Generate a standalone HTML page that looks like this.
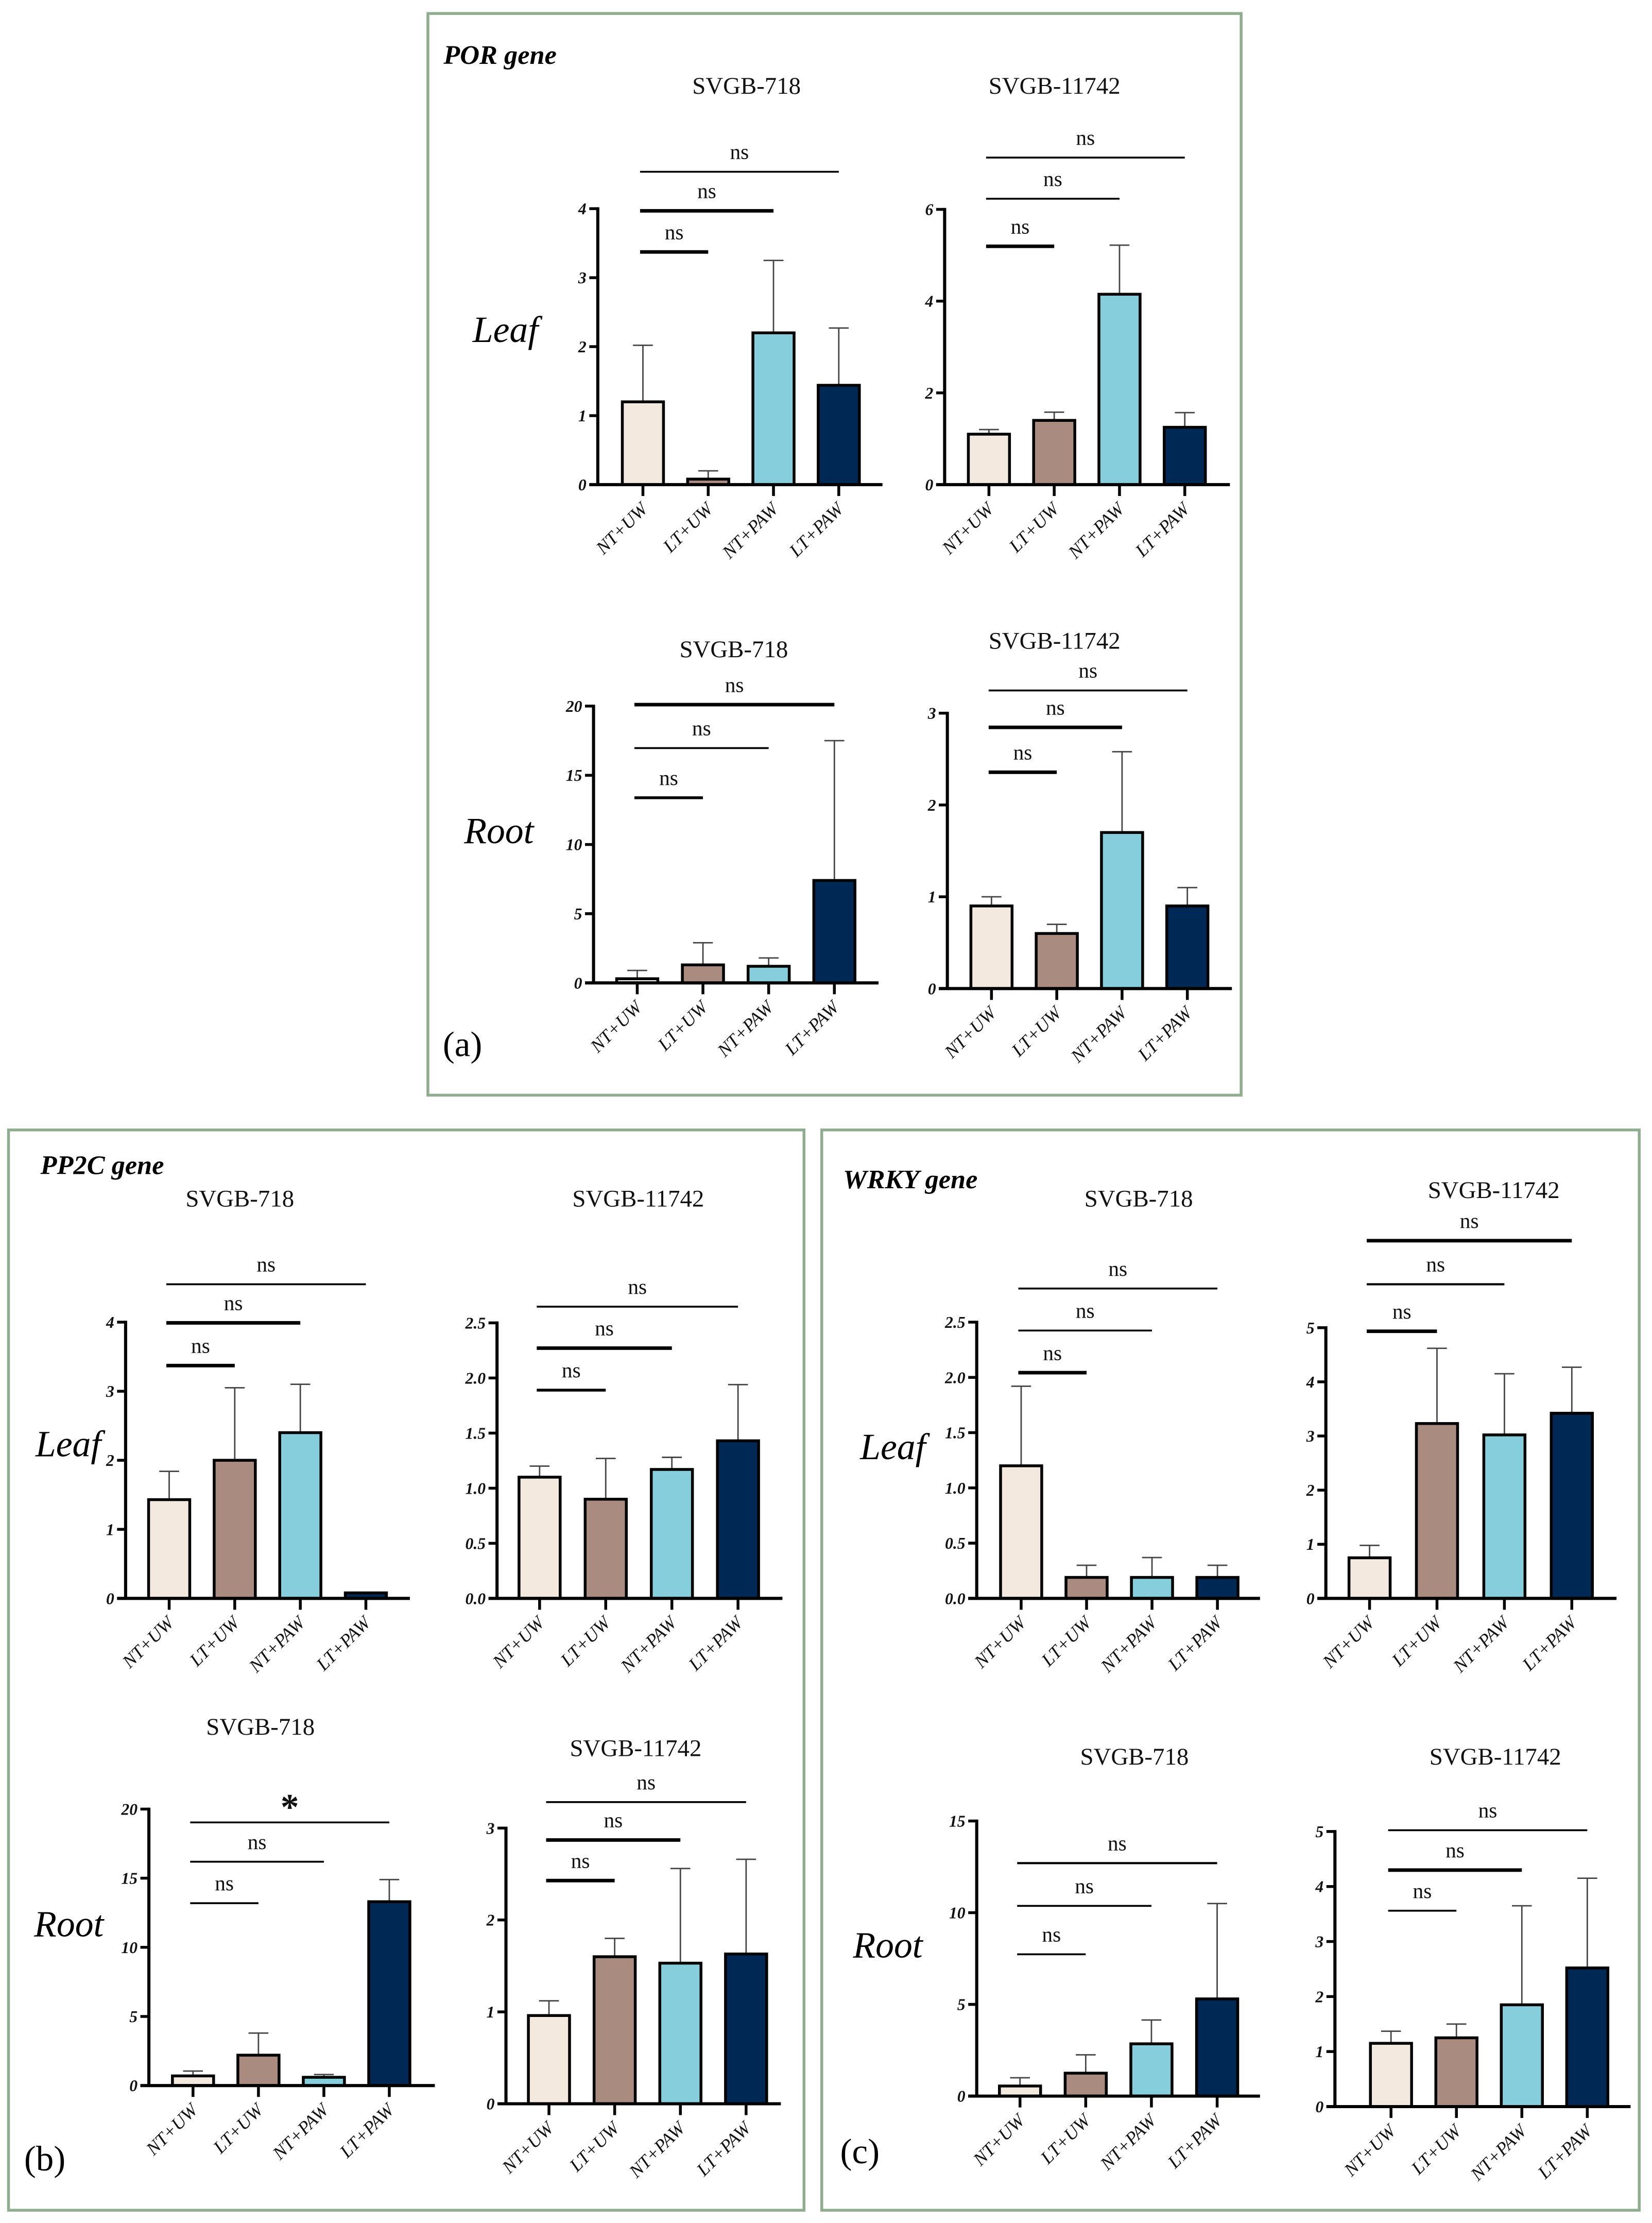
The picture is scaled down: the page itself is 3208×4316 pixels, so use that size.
<!DOCTYPE html>
<html><head><meta charset="utf-8">
<style>
html,body{margin:0;padding:0;background:#fff;}
svg{display:block;font-family:"Liberation Serif",serif;}
text{font-family:"Liberation Serif",serif;}
</style></head>
<body>
<svg id="fig" xmlns="http://www.w3.org/2000/svg" width="3208" height="4316" viewBox="0 0 1164 1566" preserveAspectRatio="none" font-family="Liberation Serif, serif">
  <rect x="0" y="0" width="1164" height="1566" fill="#fff"/>
  <rect x="301.5" y="9.5" width="573" height="762" fill="none" stroke="#8fae8f" stroke-width="2"/>
  <rect x="6" y="796" width="560.5" height="761" fill="none" stroke="#8fae8f" stroke-width="2"/>
  <rect x="579" y="796" width="576" height="761" fill="none" stroke="#8fae8f" stroke-width="2"/>
  <text x="312.5" y="45" font-size="19" font-weight="bold" font-style="italic">POR gene</text>
  <text x="28.5" y="827" font-size="19" font-weight="bold" font-style="italic">PP2C gene</text>
  <text x="594" y="837" font-size="19" font-weight="bold" font-style="italic">WRKY gene</text>
  <text x="333" y="241" font-size="26" font-style="italic">Leaf</text>
  <text x="327" y="594" font-size="26" font-style="italic">Root</text>
  <text x="25" y="1026" font-size="26" font-style="italic">Leaf</text>
  <text x="24" y="1364" font-size="26" font-style="italic">Root</text>
  <text x="606" y="1028" font-size="26" font-style="italic">Leaf</text>
  <text x="601" y="1379" font-size="26" font-style="italic">Root</text>
  <text x="312" y="744" font-size="25">(a)</text>
  <text x="17" y="1529" font-size="25">(b)</text>
  <text x="592" y="1524" font-size="25">(c)</text>
  <g id="charts"></g>
</svg>
<script>
// ---- data ----
const categories = ["NT+UW", "LT+UW", "NT+PAW", "LT+PAW"];
const barColors = ["#f3e9df", "#a98b7f", "#87cedd", "#002855"];

const porLeaf718 = [1.2, 0.08, 2.2, 1.44];
const porLeaf718Err = [2.02, 0.2, 3.25, 2.27];
const porLeaf11742 = [1.1, 1.4, 4.15, 1.25];
const porLeaf11742Err = [1.2, 1.58, 5.22, 1.57];
const porRoot718 = [0.3, 1.3, 1.2, 7.4];
const porRoot718Err = [0.9, 2.9, 1.8, 17.5];
const porRoot11742 = [0.9, 0.6, 1.7, 0.9];
const porRoot11742Err = [1.0, 0.7, 2.58, 1.1];

const pp2cLeaf718 = [1.43, 2.0, 2.4, 0.08];
const pp2cLeaf718Err = [1.84, 3.05, 3.1, 0.08];
const pp2cLeaf11742 = [1.1, 0.9, 1.17, 1.43];
const pp2cLeaf11742Err = [1.2, 1.27, 1.28, 1.94];
const pp2cRoot718 = [0.7, 2.2, 0.6, 13.3];
const pp2cRoot718Err = [1.05, 3.8, 0.8, 14.9];
const pp2cRoot11742 = [0.96, 1.6, 1.53, 1.63];
const pp2cRoot11742Err = [1.12, 1.8, 2.56, 2.66];

const wrkyLeaf718 = [1.2, 0.19, 0.19, 0.19];
const wrkyLeaf718Err = [1.92, 0.3, 0.37, 0.3];
const wrkyLeaf11742 = [0.75, 3.23, 3.02, 3.42];
const wrkyLeaf11742Err = [0.98, 4.62, 4.15, 4.27];
const wrkyRoot718 = [0.55, 1.25, 2.85, 5.3];
const wrkyRoot718Err = [1.0, 2.25, 4.15, 10.5];
const wrkyRoot11742 = [1.15, 1.25, 1.85, 2.52];
const wrkyRoot11742Err = [1.37, 1.5, 3.65, 4.15];

const ticks4 = ["0", "1", "2", "3", "4"];
const ticks6 = ["0", "2", "4", "6"];
const ticks20 = ["0", "5", "10", "15", "20"];
const ticks3 = ["0", "1", "2", "3"];
const ticks25 = ["0.0", "0.5", "1.0", "1.5", "2.0", "2.5"];
const ticks5 = ["0", "1", "2", "3", "4", "5"];
const ticks15 = ["0", "5", "10", "15"];

// ---- layout (positions only) ----
const panels = [
 {name:"por-leaf-718", title:"SVGB-718", tx:526, ty:66, v:porLeaf718, e:porLeaf718Err, ticks:ticks4, ax:421.2, y0:341.4, yT:147, xEnd:621.8, c0:453, step:46,
  br:[[3,121,1.3,"ns"],[2,148.5,2.5,"ns"],[1,177.5,2.5,"ns"]]},
 {name:"por-leaf-11742", title:"SVGB-11742", tx:743, ty:66, v:porLeaf11742, e:porLeaf11742Err, ticks:ticks6, ax:665.6, y0:341.4, yT:147.5, xEnd:866.6, c0:696.8, step:46,
  br:[[3,111,1.3,"ns"],[2,140,1.3,"ns"],[1,173.5,2.5,"ns"]]},
 {name:"por-root-718", title:"SVGB-718", tx:517, ty:463, v:porRoot718, e:porRoot718Err, ticks:ticks20, ax:418.2, y0:692.4, yT:497.4, xEnd:619, c0:449, step:46.3,
  br:[[3,496.4,2.5,"ns"],[2,527,1.3,"ns"],[1,562,2,"ns"]]},
 {name:"por-root-11742", title:"SVGB-11742", tx:743, ty:457, v:porRoot11742, e:porRoot11742Err, ticks:ticks3, ax:667.5, y0:696.4, yT:502.4, xEnd:868, c0:698.6, step:46,
  br:[[3,486.4,1.3,"ns"],[2,512.4,2.5,"ns"],[1,544,2.5,"ns"]]},
 {name:"pp2c-leaf-718", title:"SVGB-718", tx:169, ty:850, v:pp2cLeaf718, e:pp2cLeaf718Err, ticks:ticks4, ax:88.5, y0:1126, yT:931.4, xEnd:288.8, c0:119.2, step:46.2,
  br:[[3,904.7,1.3,"ns"],[2,931.9,2.5,"ns"],[1,962,2.5,"ns"]]},
 {name:"pp2c-leaf-11742", title:"SVGB-11742", tx:449.7, ty:850, v:pp2cLeaf11742, e:pp2cLeaf11742Err, ticks:ticks25, ax:350.2, y0:1126, yT:931.9, xEnd:551.3, c0:380.2, step:46.6,
  br:[[3,920.5,1.3,"ns"],[2,949.7,2.5,"ns"],[1,979.3,2,"ns"]]},
 {name:"pp2c-root-718", title:"SVGB-718", tx:183.5, ty:1222, v:pp2cRoot718, e:pp2cRoot718Err, ticks:ticks20, ax:104.9, y0:1469.2, yT:1274.4, xEnd:306.4, c0:136, step:46.1,
  br:[[3,1283.8,1.3,"*"],[2,1311.5,1.3,"ns"],[1,1340.7,1.3,"ns"]]},
 {name:"pp2c-root-11742", title:"SVGB-11742", tx:447.9, ty:1237, v:pp2cRoot11742, e:pp2cRoot11742Err, ticks:ticks3, ax:356.5, y0:1482, yT:1287.8, xEnd:550.2, c0:386.8, step:46.3,
  br:[[3,1269.5,1.3,"ns"],[2,1296.2,2.5,"ns"],[1,1324.8,2.5,"ns"]]},
 {name:"wrky-leaf-718", title:"SVGB-718", tx:802.3, ty:850, v:wrkyLeaf718, e:wrkyLeaf718Err, ticks:ticks25, ax:688.2, y0:1126, yT:931.4, xEnd:887.8, c0:719.5, step:46.1,
  br:[[3,907.7,1.3,"ns"],[2,937.3,1.3,"ns"],[1,967,2.5,"ns"]]},
 {name:"wrky-leaf-11742", title:"SVGB-11742", tx:1052.5, ty:844, v:wrkyLeaf11742, e:wrkyLeaf11742Err, ticks:ticks5, ax:934.2, y0:1126, yT:935.3, xEnd:1139, c0:965, step:47.5,
  br:[[3,874,2.5,"ns"],[2,904.7,1.5,"ns"],[1,937.8,2.5,"ns"]]},
 {name:"wrky-root-718", title:"SVGB-718", tx:799.3, ty:1243, v:wrkyRoot718, e:wrkyRoot718Err, ticks:ticks15, ax:688.2, y0:1476.6, yT:1282.8, xEnd:887.8, c0:718.7, step:46.3,
  br:[[3,1312.5,1.5,"ns"],[2,1342.6,1.3,"ns"],[1,1376.7,1.3,"ns"]]},
 {name:"wrky-root-11742", title:"SVGB-11742", tx:1053.6, ty:1243, v:wrkyRoot11742, e:wrkyRoot11742Err, ticks:ticks5, ax:940.6, y0:1484, yT:1290.2, xEnd:1148.9, c0:980.1, step:46.1,
  br:[[3,1289.3,1.3,"ns"],[2,1317.4,2.5,"ns"],[1,1346,1.3,"ns"]]}
];

const NS = "http://www.w3.org/2000/svg";
const root = document.getElementById("charts");
function mk(tag, attrs, parent) {
  const el = document.createElementNS(NS, tag);
  for (const k in attrs) el.setAttribute(k, attrs[k]);
  parent.appendChild(el);
  return el;
}

panels.forEach(p => {
  const g = mk("g", {}, root);
  
  
  const maxV = parseFloat(p.ticks[p.ticks.length - 1]);
  const yScale = v => p.y0 - (v / maxV) * (p.y0 - p.yT);
  const xScale = i => p.c0 + i * p.step;
  const bw = 29;

  const t = mk("text", {x:p.tx, y:p.ty, "font-size":17, "text-anchor":"middle", fill:"#111"}, g);
  t.textContent = p.title;
  
  

  p.v.forEach((val, i) => {
    const cx = xScale(i);
    const top = yScale(val), et = yScale(p.e[i]);
    const eb = mk("line", {x1:cx, x2:cx, y1:top, y2:et, stroke:"#444", "stroke-width":1}, g);
    
    
    const cap = mk("line", {x1:cx - 7, x2:cx + 7, y1:et, y2:et, stroke:"#444", "stroke-width":1}, g);
    
    
    const r = mk("rect", {x:cx - bw/2, y:top, width:bw, height:Math.max(p.y0 - top, 0.5), fill:barColors[i], stroke:"#000", "stroke-width":2}, g);
    
    
    const tk = mk("line", {x1:cx, x2:cx, y1:p.y0, y2:p.y0 + 8, stroke:"#000", "stroke-width":2}, g);
    
    
    const lx = cx + 4, ly = p.y0 + 18;
    const lb = mk("text", {x:lx, y:ly, "font-size":13, "font-style":"italic", "text-anchor":"end", transform:"rotate(-45 " + lx + " " + ly + ")", fill:"#111"}, g);
    lb.textContent = categories[i];
    
    
  });

  const ya = mk("line", {x1:p.ax, x2:p.ax, y1:p.yT - 1, y2:p.y0 + 1, stroke:"#000", "stroke-width":2.2}, g);
  
  
  const xa = mk("line", {x1:p.ax - 6, x2:p.xEnd, y1:p.y0, y2:p.y0, stroke:"#000", "stroke-width":2.2}, g);
  
  
  p.ticks.forEach(lbl => {
    const y = yScale(parseFloat(lbl));
    const tl = mk("line", {x1:p.ax - 6, x2:p.ax, y1:y, y2:y, stroke:"#000", "stroke-width":2}, g);
    
    
    const tt = mk("text", {x:p.ax - 8, y:y + 4, "font-size":11.5, "font-weight":"bold", "font-style":"italic", "text-anchor":"end", fill:"#111"}, g);
    tt.textContent = lbl;
    
    
  });

  p.br.forEach(b => {
    const x1 = xScale(0) - 2, x2 = xScale(b[0]);
    const ln = mk("line", {x1:x1, x2:x2, y1:b[1], y2:b[1], stroke:"#000", "stroke-width":b[2]}, g);
    
    
    const st = b[3] === "*";
    const lt = mk("text", {x:(x1 + x2) / 2, y:b[1] - (st ? 2 : 9), "font-size":st ? 26 : 15, "font-weight":st ? "bold" : "normal", "text-anchor":"middle", fill:"#111"}, g);
    lt.textContent = b[3];
    
    
  });
});
</script>
</body></html>
